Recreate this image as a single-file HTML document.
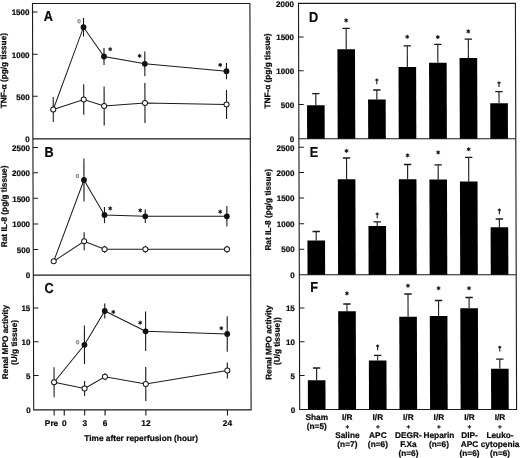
<!DOCTYPE html>
<html><head><meta charset="utf-8"><style>
html,body{margin:0;padding:0;background:#fff;}
svg{display:block;}
text{font-family:"Liberation Sans", sans-serif;fill:#0a0a0a;stroke:#0a0a0a;stroke-width:0.22px;}
svg{filter:blur(0.3px);}
</style></head><body>
<svg width="520" height="458" viewBox="0 0 520 458">
<rect width="520" height="458" fill="#fff"/>
<g transform="translate(0,206) skewX(0.17) translate(0,-206)">
<rect x="33.1" y="3.5" width="217.4" height="406.4" fill="none" stroke="#1a1a1a" stroke-width="1.1"/>
<line x1="33.10" y1="138.90" x2="250.50" y2="138.90" stroke="#1a1a1a" stroke-width="1.1"/>
<line x1="33.10" y1="275.10" x2="250.50" y2="275.10" stroke="#1a1a1a" stroke-width="1.1"/>
<rect x="299.1" y="3.4" width="216.89999999999998" height="406.1" fill="none" stroke="#1a1a1a" stroke-width="1.1"/>
<line x1="299.10" y1="138.80" x2="516.00" y2="138.80" stroke="#1a1a1a" stroke-width="1.1"/>
<line x1="299.10" y1="274.70" x2="516.00" y2="274.70" stroke="#1a1a1a" stroke-width="1.1"/>
<line x1="33.10" y1="12.00" x2="38.10" y2="12.00" stroke="#1a1a1a" stroke-width="1.0"/>
<text x="30.00" y="15.30" font-size="8.0" text-anchor="end" font-weight="bold" >1500</text>
<line x1="33.10" y1="54.30" x2="38.10" y2="54.30" stroke="#1a1a1a" stroke-width="1.0"/>
<text x="30.00" y="57.60" font-size="8.0" text-anchor="end" font-weight="bold" >1000</text>
<line x1="33.10" y1="96.30" x2="38.10" y2="96.30" stroke="#1a1a1a" stroke-width="1.0"/>
<text x="30.00" y="99.60" font-size="8.0" text-anchor="end" font-weight="bold" >500</text>
<text x="30.00" y="142.20" font-size="8.0" text-anchor="end" font-weight="bold" >0</text>
<line x1="33.10" y1="147.40" x2="38.10" y2="147.40" stroke="#1a1a1a" stroke-width="1.0"/>
<text x="30.00" y="150.70" font-size="8.0" text-anchor="end" font-weight="bold" >2500</text>
<line x1="33.10" y1="172.80" x2="38.10" y2="172.80" stroke="#1a1a1a" stroke-width="1.0"/>
<text x="30.00" y="176.10" font-size="8.0" text-anchor="end" font-weight="bold" >2000</text>
<line x1="33.10" y1="198.30" x2="38.10" y2="198.30" stroke="#1a1a1a" stroke-width="1.0"/>
<text x="30.00" y="201.60" font-size="8.0" text-anchor="end" font-weight="bold" >1500</text>
<line x1="33.10" y1="223.90" x2="38.10" y2="223.90" stroke="#1a1a1a" stroke-width="1.0"/>
<text x="30.00" y="227.20" font-size="8.0" text-anchor="end" font-weight="bold" >1000</text>
<line x1="33.10" y1="249.50" x2="38.10" y2="249.50" stroke="#1a1a1a" stroke-width="1.0"/>
<text x="30.00" y="252.80" font-size="8.0" text-anchor="end" font-weight="bold" >500</text>
<text x="30.00" y="278.40" font-size="8.0" text-anchor="end" font-weight="bold" >0</text>
<line x1="33.10" y1="308.00" x2="38.10" y2="308.00" stroke="#1a1a1a" stroke-width="1.0"/>
<text x="30.00" y="311.30" font-size="8.0" text-anchor="end" font-weight="bold" >15</text>
<line x1="33.10" y1="341.80" x2="38.10" y2="341.80" stroke="#1a1a1a" stroke-width="1.0"/>
<text x="30.00" y="345.10" font-size="8.0" text-anchor="end" font-weight="bold" >10</text>
<line x1="33.10" y1="375.60" x2="38.10" y2="375.60" stroke="#1a1a1a" stroke-width="1.0"/>
<text x="30.00" y="378.90" font-size="8.0" text-anchor="end" font-weight="bold" >5</text>
<text x="30.00" y="413.20" font-size="8.0" text-anchor="end" font-weight="bold" >0</text>
<text x="294.50" y="7.20" font-size="8.0" text-anchor="end" font-weight="bold" >2000</text>
<line x1="299.10" y1="37.10" x2="304.10" y2="37.10" stroke="#1a1a1a" stroke-width="1.0"/>
<text x="294.50" y="40.40" font-size="8.0" text-anchor="end" font-weight="bold" >1500</text>
<line x1="299.10" y1="70.80" x2="304.10" y2="70.80" stroke="#1a1a1a" stroke-width="1.0"/>
<text x="294.50" y="74.10" font-size="8.0" text-anchor="end" font-weight="bold" >1000</text>
<line x1="299.10" y1="104.60" x2="304.10" y2="104.60" stroke="#1a1a1a" stroke-width="1.0"/>
<text x="294.50" y="107.90" font-size="8.0" text-anchor="end" font-weight="bold" >500</text>
<text x="294.50" y="142.10" font-size="8.0" text-anchor="end" font-weight="bold" >0</text>
<line x1="299.10" y1="147.30" x2="304.10" y2="147.30" stroke="#1a1a1a" stroke-width="1.0"/>
<text x="294.50" y="150.60" font-size="8.0" text-anchor="end" font-weight="bold" >2500</text>
<line x1="299.10" y1="172.60" x2="304.10" y2="172.60" stroke="#1a1a1a" stroke-width="1.0"/>
<text x="294.50" y="175.90" font-size="8.0" text-anchor="end" font-weight="bold" >2000</text>
<line x1="299.10" y1="198.00" x2="304.10" y2="198.00" stroke="#1a1a1a" stroke-width="1.0"/>
<text x="294.50" y="201.30" font-size="8.0" text-anchor="end" font-weight="bold" >1500</text>
<line x1="299.10" y1="223.70" x2="304.10" y2="223.70" stroke="#1a1a1a" stroke-width="1.0"/>
<text x="294.50" y="227.00" font-size="8.0" text-anchor="end" font-weight="bold" >1000</text>
<line x1="299.10" y1="249.20" x2="304.10" y2="249.20" stroke="#1a1a1a" stroke-width="1.0"/>
<text x="294.50" y="252.50" font-size="8.0" text-anchor="end" font-weight="bold" >500</text>
<text x="294.50" y="278.00" font-size="8.0" text-anchor="end" font-weight="bold" >0</text>
<line x1="299.10" y1="307.90" x2="304.10" y2="307.90" stroke="#1a1a1a" stroke-width="1.0"/>
<text x="294.50" y="311.20" font-size="8.0" text-anchor="end" font-weight="bold" >15</text>
<line x1="299.10" y1="341.70" x2="304.10" y2="341.70" stroke="#1a1a1a" stroke-width="1.0"/>
<text x="294.50" y="345.00" font-size="8.0" text-anchor="end" font-weight="bold" >10</text>
<line x1="299.10" y1="375.50" x2="304.10" y2="375.50" stroke="#1a1a1a" stroke-width="1.0"/>
<text x="294.50" y="378.80" font-size="8.0" text-anchor="end" font-weight="bold" >5</text>
<text x="294.50" y="412.80" font-size="8.0" text-anchor="end" font-weight="bold" >0</text>
<text transform="translate(44.30,21.30) scale(0.88,1)" font-size="14.4" font-weight="bold">A</text>
<text transform="translate(44.60,156.60) scale(0.88,1)" font-size="14.4" font-weight="bold">B</text>
<text transform="translate(44.20,292.50) scale(0.88,1)" font-size="14.4" font-weight="bold">C</text>
<text transform="translate(309.50,22.00) scale(0.88,1)" font-size="14.4" font-weight="bold">D</text>
<text transform="translate(309.90,157.00) scale(0.88,1)" font-size="14.4" font-weight="bold">E</text>
<text transform="translate(309.90,292.30) scale(0.88,1)" font-size="14.4" font-weight="bold">F</text>
<line x1="53.55" y1="409.90" x2="53.55" y2="415.50" stroke="#1a1a1a" stroke-width="1.1"/>
<text x="50.90" y="426.40" font-size="8.3" text-anchor="middle" font-weight="bold" >Pre</text>
<line x1="63.65" y1="409.90" x2="63.65" y2="415.50" stroke="#1a1a1a" stroke-width="1.1"/>
<text x="63.65" y="426.40" font-size="8.3" text-anchor="middle" font-weight="bold" >0</text>
<line x1="84.05" y1="409.90" x2="84.05" y2="415.50" stroke="#1a1a1a" stroke-width="1.1"/>
<text x="84.05" y="426.40" font-size="8.3" text-anchor="middle" font-weight="bold" >3</text>
<line x1="104.45" y1="409.90" x2="104.45" y2="415.50" stroke="#1a1a1a" stroke-width="1.1"/>
<text x="104.45" y="426.40" font-size="8.3" text-anchor="middle" font-weight="bold" >6</text>
<line x1="145.25" y1="409.90" x2="145.25" y2="415.50" stroke="#1a1a1a" stroke-width="1.1"/>
<text x="145.25" y="426.40" font-size="8.3" text-anchor="middle" font-weight="bold" >12</text>
<line x1="226.85" y1="409.90" x2="226.85" y2="415.50" stroke="#1a1a1a" stroke-width="1.1"/>
<text x="226.85" y="426.40" font-size="8.3" text-anchor="middle" font-weight="bold" >24</text>
<text x="140.50" y="441.20" font-size="8.3" text-anchor="middle" font-weight="bold" >Time after reperfusion (hour)</text>
<text transform="translate(6.80,70.60) rotate(-90)" font-size="8.25" text-anchor="middle" font-weight="bold">TNF-α (pg/g tissue)</text>
<text transform="translate(6.90,206.40) rotate(-90)" font-size="8.25" text-anchor="middle" font-weight="bold">Rat IL-8 (pg/g tissue)</text>
<text transform="translate(7.60,342.00) rotate(-90)" font-size="8.25" text-anchor="middle" font-weight="bold">Renal MPO activity</text>
<text transform="translate(16.60,342.50) rotate(-90)" font-size="8.25" text-anchor="middle" font-weight="bold">(U/g tissue)</text>
<text transform="translate(270.60,71.00) rotate(-90)" font-size="8.25" text-anchor="middle" font-weight="bold">TNF-α (pg/g tissue)</text>
<text transform="translate(270.80,209.80) rotate(-90)" font-size="8.25" text-anchor="middle" font-weight="bold">Rat IL-8 (pg/g tissue)</text>
<text transform="translate(271.00,342.50) rotate(-90)" font-size="8.25" text-anchor="middle" font-weight="bold">Renal MPO activity</text>
<text transform="translate(279.40,341.20) rotate(-90)" font-size="8.25" text-anchor="middle" font-weight="bold">(U/g tissue))</text>
<line x1="53.55" y1="97.00" x2="53.55" y2="122.00" stroke="#1a1a1a" stroke-width="1.1"/>
<line x1="84.05" y1="84.20" x2="84.05" y2="114.80" stroke="#1a1a1a" stroke-width="1.1"/>
<line x1="104.45" y1="86.60" x2="104.45" y2="125.40" stroke="#1a1a1a" stroke-width="1.1"/>
<line x1="145.25" y1="83.00" x2="145.25" y2="123.00" stroke="#1a1a1a" stroke-width="1.1"/>
<line x1="226.85" y1="90.10" x2="226.85" y2="118.90" stroke="#1a1a1a" stroke-width="1.1"/>
<line x1="84.05" y1="18.00" x2="84.05" y2="36.40" stroke="#1a1a1a" stroke-width="1.1"/>
<line x1="104.45" y1="48.10" x2="104.45" y2="64.90" stroke="#1a1a1a" stroke-width="1.1"/>
<line x1="145.25" y1="51.40" x2="145.25" y2="76.20" stroke="#1a1a1a" stroke-width="1.1"/>
<line x1="226.85" y1="63.10" x2="226.85" y2="79.30" stroke="#1a1a1a" stroke-width="1.1"/>
<path d="M53.55,109.50 L84.05,27.20 L104.45,56.50 L145.25,63.80 L226.85,71.20" fill="none" stroke="#1a1a1a" stroke-width="1.0"/>
<path d="M53.55,109.50 L84.05,99.50 L104.45,106.00 L145.25,103.00 L226.85,104.50" fill="none" stroke="#1a1a1a" stroke-width="1.0"/>
<circle cx="84.05" cy="27.20" r="2.9" fill="#111"/>
<circle cx="104.45" cy="56.50" r="2.9" fill="#111"/>
<circle cx="145.25" cy="63.80" r="2.9" fill="#111"/>
<circle cx="226.85" cy="71.20" r="2.9" fill="#111"/>
<circle cx="53.55" cy="109.50" r="2.55" fill="#fff" stroke="#1a1a1a" stroke-width="1.0"/>
<circle cx="84.05" cy="99.50" r="2.55" fill="#fff" stroke="#1a1a1a" stroke-width="1.0"/>
<circle cx="104.45" cy="106.00" r="2.55" fill="#fff" stroke="#1a1a1a" stroke-width="1.0"/>
<circle cx="145.25" cy="103.00" r="2.55" fill="#fff" stroke="#1a1a1a" stroke-width="1.0"/>
<circle cx="226.85" cy="104.50" r="2.55" fill="#fff" stroke="#1a1a1a" stroke-width="1.0"/>
<polygon points="110.67,47.20 111.12,48.42 112.40,48.20 111.57,49.20 112.40,50.20 111.12,49.98 110.67,51.20 110.22,49.98 108.94,50.20 109.77,49.20 108.94,48.20 110.22,48.42" fill="#111" stroke="#111" stroke-width="0.5"/>
<polygon points="140.05,53.90 140.50,55.12 141.78,54.90 140.95,55.90 141.78,56.90 140.50,56.68 140.05,57.90 139.60,56.68 138.32,56.90 139.15,55.90 138.32,54.90 139.60,55.12" fill="#111" stroke="#111" stroke-width="0.5"/>
<polygon points="220.62,62.90 221.07,64.12 222.36,63.90 221.52,64.90 222.36,65.90 221.07,65.68 220.62,66.90 220.17,65.68 218.89,65.90 219.72,64.90 218.89,63.90 220.17,64.12" fill="#111" stroke="#111" stroke-width="0.5"/>
<ellipse cx="79.55" cy="21.30" rx="1.3" ry="1.7" fill="#ddd" stroke="#8a8a8a" stroke-width="1.0"/>
<line x1="53.55" y1="259.30" x2="53.55" y2="263.30" stroke="#1a1a1a" stroke-width="1.1"/>
<line x1="84.05" y1="232.30" x2="84.05" y2="250.30" stroke="#1a1a1a" stroke-width="1.1"/>
<line x1="104.45" y1="245.80" x2="104.45" y2="252.80" stroke="#1a1a1a" stroke-width="1.1"/>
<line x1="145.25" y1="245.80" x2="145.25" y2="252.80" stroke="#1a1a1a" stroke-width="1.1"/>
<line x1="226.85" y1="245.80" x2="226.85" y2="252.80" stroke="#1a1a1a" stroke-width="1.1"/>
<line x1="84.05" y1="158.50" x2="84.05" y2="201.50" stroke="#1a1a1a" stroke-width="1.1"/>
<line x1="104.45" y1="207.00" x2="104.45" y2="223.00" stroke="#1a1a1a" stroke-width="1.1"/>
<line x1="145.25" y1="209.50" x2="145.25" y2="223.10" stroke="#1a1a1a" stroke-width="1.1"/>
<line x1="226.85" y1="206.00" x2="226.85" y2="226.60" stroke="#1a1a1a" stroke-width="1.1"/>
<path d="M53.55,261.30 L84.05,180.00 L104.45,215.00 L145.25,216.30 L226.85,216.30" fill="none" stroke="#1a1a1a" stroke-width="1.0"/>
<path d="M53.55,261.30 L84.05,241.30 L104.45,249.30 L145.25,249.30 L226.85,249.30" fill="none" stroke="#1a1a1a" stroke-width="1.0"/>
<circle cx="84.05" cy="180.00" r="2.9" fill="#111"/>
<circle cx="104.45" cy="215.00" r="2.9" fill="#111"/>
<circle cx="145.25" cy="216.30" r="2.9" fill="#111"/>
<circle cx="226.85" cy="216.30" r="2.9" fill="#111"/>
<circle cx="53.55" cy="261.30" r="2.55" fill="#fff" stroke="#1a1a1a" stroke-width="1.0"/>
<circle cx="84.05" cy="241.30" r="2.55" fill="#fff" stroke="#1a1a1a" stroke-width="1.0"/>
<circle cx="104.45" cy="249.30" r="2.55" fill="#fff" stroke="#1a1a1a" stroke-width="1.0"/>
<circle cx="145.25" cy="249.30" r="2.55" fill="#fff" stroke="#1a1a1a" stroke-width="1.0"/>
<circle cx="226.85" cy="249.30" r="2.55" fill="#fff" stroke="#1a1a1a" stroke-width="1.0"/>
<polygon points="110.19,206.40 110.64,207.62 111.93,207.40 111.09,208.40 111.93,209.40 110.64,209.18 110.19,210.40 109.74,209.18 108.46,209.40 109.29,208.40 108.46,207.40 109.74,207.62" fill="#111" stroke="#111" stroke-width="0.5"/>
<polygon points="140.19,208.40 140.64,209.62 141.92,209.40 141.09,210.40 141.92,211.40 140.64,211.18 140.19,212.40 139.74,211.18 138.46,211.40 139.29,210.40 138.46,209.40 139.74,209.62" fill="#111" stroke="#111" stroke-width="0.5"/>
<polygon points="220.18,209.70 220.63,210.92 221.92,210.70 221.08,211.70 221.92,212.70 220.63,212.48 220.18,213.70 219.73,212.48 218.45,212.70 219.28,211.70 218.45,210.70 219.73,210.92" fill="#111" stroke="#111" stroke-width="0.5"/>
<ellipse cx="77.49" cy="176.00" rx="1.3" ry="1.7" fill="#ddd" stroke="#8a8a8a" stroke-width="1.0"/>
<line x1="53.55" y1="367.30" x2="53.55" y2="397.30" stroke="#1a1a1a" stroke-width="1.1"/>
<line x1="84.05" y1="381.00" x2="84.05" y2="396.00" stroke="#1a1a1a" stroke-width="1.1"/>
<line x1="104.45" y1="373.30" x2="104.45" y2="380.30" stroke="#1a1a1a" stroke-width="1.1"/>
<line x1="145.25" y1="367.00" x2="145.25" y2="401.00" stroke="#1a1a1a" stroke-width="1.1"/>
<line x1="226.85" y1="362.60" x2="226.85" y2="378.40" stroke="#1a1a1a" stroke-width="1.1"/>
<line x1="84.05" y1="325.50" x2="84.05" y2="364.10" stroke="#1a1a1a" stroke-width="1.1"/>
<line x1="104.45" y1="303.50" x2="104.45" y2="318.50" stroke="#1a1a1a" stroke-width="1.1"/>
<line x1="145.25" y1="311.50" x2="145.25" y2="351.10" stroke="#1a1a1a" stroke-width="1.1"/>
<line x1="226.85" y1="316.20" x2="226.85" y2="351.80" stroke="#1a1a1a" stroke-width="1.1"/>
<path d="M53.55,382.30 L84.05,344.80 L104.45,311.00 L145.25,331.30 L226.85,334.00" fill="none" stroke="#1a1a1a" stroke-width="1.0"/>
<path d="M53.55,382.30 L84.05,388.50 L104.45,376.80 L145.25,384.00 L226.85,370.50" fill="none" stroke="#1a1a1a" stroke-width="1.0"/>
<circle cx="84.05" cy="344.80" r="2.9" fill="#111"/>
<circle cx="104.45" cy="311.00" r="2.9" fill="#111"/>
<circle cx="145.25" cy="331.30" r="2.9" fill="#111"/>
<circle cx="226.85" cy="334.00" r="2.9" fill="#111"/>
<circle cx="53.55" cy="382.30" r="2.55" fill="#fff" stroke="#1a1a1a" stroke-width="1.0"/>
<circle cx="84.05" cy="388.50" r="2.55" fill="#fff" stroke="#1a1a1a" stroke-width="1.0"/>
<circle cx="104.45" cy="376.80" r="2.55" fill="#fff" stroke="#1a1a1a" stroke-width="1.0"/>
<circle cx="145.25" cy="384.00" r="2.55" fill="#fff" stroke="#1a1a1a" stroke-width="1.0"/>
<circle cx="226.85" cy="370.50" r="2.55" fill="#fff" stroke="#1a1a1a" stroke-width="1.0"/>
<polygon points="112.98,309.90 113.43,311.12 114.72,310.90 113.88,311.90 114.72,312.90 113.43,312.68 112.98,313.90 112.53,312.68 111.25,312.90 112.08,311.90 111.25,310.90 112.53,311.12" fill="#111" stroke="#111" stroke-width="0.5"/>
<polygon points="139.85,320.70 140.30,321.92 141.58,321.70 140.75,322.70 141.58,323.70 140.30,323.48 139.85,324.70 139.40,323.48 138.12,323.70 138.95,322.70 138.12,321.70 139.40,321.92" fill="#111" stroke="#111" stroke-width="0.5"/>
<polygon points="220.93,326.20 221.38,327.42 222.67,327.20 221.83,328.20 222.67,329.20 221.38,328.98 220.93,330.20 220.48,328.98 219.20,329.20 220.03,328.20 219.20,327.20 220.48,327.42" fill="#111" stroke="#111" stroke-width="0.5"/>
<ellipse cx="77.19" cy="342.30" rx="1.3" ry="1.7" fill="#ddd" stroke="#8a8a8a" stroke-width="1.0"/>
<line x1="316.13" y1="93.60" x2="316.13" y2="105.30" stroke="#1a1a1a" stroke-width="1.1"/>
<line x1="312.43" y1="93.60" x2="319.83" y2="93.60" stroke="#1a1a1a" stroke-width="1.3"/>
<rect x="307.33" y="105.30" width="17.6" height="33.50" fill="#000"/>
<line x1="346.67" y1="28.30" x2="346.67" y2="49.30" stroke="#1a1a1a" stroke-width="1.1"/>
<line x1="342.97" y1="28.30" x2="350.37" y2="28.30" stroke="#1a1a1a" stroke-width="1.3"/>
<rect x="337.87" y="49.30" width="17.6" height="89.50" fill="#000"/>
<line x1="377.20" y1="90.00" x2="377.20" y2="99.40" stroke="#1a1a1a" stroke-width="1.1"/>
<line x1="373.50" y1="90.00" x2="380.90" y2="90.00" stroke="#1a1a1a" stroke-width="1.3"/>
<rect x="368.40" y="99.40" width="17.6" height="39.40" fill="#000"/>
<line x1="407.74" y1="45.80" x2="407.74" y2="67.00" stroke="#1a1a1a" stroke-width="1.1"/>
<line x1="404.04" y1="45.80" x2="411.44" y2="45.80" stroke="#1a1a1a" stroke-width="1.3"/>
<rect x="398.94" y="67.00" width="17.6" height="71.80" fill="#000"/>
<line x1="438.28" y1="44.30" x2="438.28" y2="62.70" stroke="#1a1a1a" stroke-width="1.1"/>
<line x1="434.58" y1="44.30" x2="441.98" y2="44.30" stroke="#1a1a1a" stroke-width="1.3"/>
<rect x="429.48" y="62.70" width="17.6" height="76.10" fill="#000"/>
<line x1="468.81" y1="39.10" x2="468.81" y2="58.00" stroke="#1a1a1a" stroke-width="1.1"/>
<line x1="465.12" y1="39.10" x2="472.51" y2="39.10" stroke="#1a1a1a" stroke-width="1.3"/>
<rect x="460.01" y="58.00" width="17.6" height="80.80" fill="#000"/>
<line x1="499.35" y1="91.70" x2="499.35" y2="103.30" stroke="#1a1a1a" stroke-width="1.1"/>
<line x1="495.65" y1="91.70" x2="503.05" y2="91.70" stroke="#1a1a1a" stroke-width="1.3"/>
<rect x="490.55" y="103.30" width="17.6" height="35.50" fill="#000"/>
<polygon points="346.67,18.40 347.12,19.62 348.40,19.40 347.57,20.40 348.40,21.40 347.12,21.18 346.67,22.40 346.22,21.18 344.93,21.40 345.77,20.40 344.93,19.40 346.22,19.62" fill="#111" stroke="#111" stroke-width="0.5"/>
<line x1="377.20" y1="78.60" x2="377.20" y2="84.30" stroke="#1a1a1a" stroke-width="1.1"/>
<line x1="375.70" y1="80.00" x2="378.70" y2="80.00" stroke="#1a1a1a" stroke-width="1.4"/>
<polygon points="407.74,34.80 408.19,36.02 409.47,35.80 408.64,36.80 409.47,37.80 408.19,37.58 407.74,38.80 407.29,37.58 406.01,37.80 406.84,36.80 406.01,35.80 407.29,36.02" fill="#111" stroke="#111" stroke-width="0.5"/>
<polygon points="438.28,35.10 438.73,36.32 440.01,36.10 439.18,37.10 440.01,38.10 438.73,37.88 438.28,39.10 437.83,37.88 436.55,38.10 437.38,37.10 436.55,36.10 437.83,36.32" fill="#111" stroke="#111" stroke-width="0.5"/>
<polygon points="468.81,29.40 469.26,30.62 470.55,30.40 469.71,31.40 470.55,32.40 469.26,32.18 468.81,33.40 468.37,32.18 467.08,32.40 467.92,31.40 467.08,30.40 468.37,30.62" fill="#111" stroke="#111" stroke-width="0.5"/>
<line x1="499.35" y1="81.30" x2="499.35" y2="87.00" stroke="#1a1a1a" stroke-width="1.1"/>
<line x1="497.85" y1="82.70" x2="500.85" y2="82.70" stroke="#1a1a1a" stroke-width="1.4"/>
<line x1="316.13" y1="231.50" x2="316.13" y2="240.50" stroke="#1a1a1a" stroke-width="1.1"/>
<line x1="312.43" y1="231.50" x2="319.83" y2="231.50" stroke="#1a1a1a" stroke-width="1.3"/>
<rect x="307.33" y="240.50" width="17.6" height="34.20" fill="#000"/>
<line x1="346.67" y1="158.00" x2="346.67" y2="179.30" stroke="#1a1a1a" stroke-width="1.1"/>
<line x1="342.97" y1="158.00" x2="350.37" y2="158.00" stroke="#1a1a1a" stroke-width="1.3"/>
<rect x="337.87" y="179.30" width="17.6" height="95.40" fill="#000"/>
<line x1="377.20" y1="221.80" x2="377.20" y2="226.00" stroke="#1a1a1a" stroke-width="1.1"/>
<line x1="373.50" y1="221.80" x2="380.90" y2="221.80" stroke="#1a1a1a" stroke-width="1.3"/>
<rect x="368.40" y="226.00" width="17.6" height="48.70" fill="#000"/>
<line x1="407.74" y1="164.50" x2="407.74" y2="179.30" stroke="#1a1a1a" stroke-width="1.1"/>
<line x1="404.04" y1="164.50" x2="411.44" y2="164.50" stroke="#1a1a1a" stroke-width="1.3"/>
<rect x="398.94" y="179.30" width="17.6" height="95.40" fill="#000"/>
<line x1="438.28" y1="164.80" x2="438.28" y2="179.50" stroke="#1a1a1a" stroke-width="1.1"/>
<line x1="434.58" y1="164.80" x2="441.98" y2="164.80" stroke="#1a1a1a" stroke-width="1.3"/>
<rect x="429.48" y="179.50" width="17.6" height="95.20" fill="#000"/>
<line x1="468.81" y1="157.30" x2="468.81" y2="181.50" stroke="#1a1a1a" stroke-width="1.1"/>
<line x1="465.12" y1="157.30" x2="472.51" y2="157.30" stroke="#1a1a1a" stroke-width="1.3"/>
<rect x="460.01" y="181.50" width="17.6" height="93.20" fill="#000"/>
<line x1="499.35" y1="219.00" x2="499.35" y2="227.20" stroke="#1a1a1a" stroke-width="1.1"/>
<line x1="495.65" y1="219.00" x2="503.05" y2="219.00" stroke="#1a1a1a" stroke-width="1.3"/>
<rect x="490.55" y="227.20" width="17.6" height="47.50" fill="#000"/>
<polygon points="346.67,148.90 347.12,150.12 348.40,149.90 347.57,150.90 348.40,151.90 347.12,151.68 346.67,152.90 346.22,151.68 344.93,151.90 345.77,150.90 344.93,149.90 346.22,150.12" fill="#111" stroke="#111" stroke-width="0.5"/>
<line x1="377.20" y1="212.60" x2="377.20" y2="218.30" stroke="#1a1a1a" stroke-width="1.1"/>
<line x1="375.70" y1="214.00" x2="378.70" y2="214.00" stroke="#1a1a1a" stroke-width="1.4"/>
<polygon points="407.74,153.40 408.19,154.62 409.47,154.40 408.64,155.40 409.47,156.40 408.19,156.18 407.74,157.40 407.29,156.18 406.01,156.40 406.84,155.40 406.01,154.40 407.29,154.62" fill="#111" stroke="#111" stroke-width="0.5"/>
<polygon points="438.28,150.40 438.73,151.62 440.01,151.40 439.18,152.40 440.01,153.40 438.73,153.18 438.28,154.40 437.83,153.18 436.55,153.40 437.38,152.40 436.55,151.40 437.83,151.62" fill="#111" stroke="#111" stroke-width="0.5"/>
<polygon points="468.81,147.20 469.26,148.42 470.55,148.20 469.71,149.20 470.55,150.20 469.26,149.98 468.81,151.20 468.37,149.98 467.08,150.20 467.92,149.20 467.08,148.20 468.37,148.42" fill="#111" stroke="#111" stroke-width="0.5"/>
<line x1="499.35" y1="208.60" x2="499.35" y2="214.30" stroke="#1a1a1a" stroke-width="1.1"/>
<line x1="497.85" y1="210.00" x2="500.85" y2="210.00" stroke="#1a1a1a" stroke-width="1.4"/>
<line x1="316.13" y1="368.00" x2="316.13" y2="380.30" stroke="#1a1a1a" stroke-width="1.1"/>
<line x1="312.43" y1="368.00" x2="319.83" y2="368.00" stroke="#1a1a1a" stroke-width="1.3"/>
<rect x="307.33" y="380.30" width="17.6" height="29.20" fill="#000"/>
<line x1="346.67" y1="304.00" x2="346.67" y2="311.30" stroke="#1a1a1a" stroke-width="1.1"/>
<line x1="342.97" y1="304.00" x2="350.37" y2="304.00" stroke="#1a1a1a" stroke-width="1.3"/>
<rect x="337.87" y="311.30" width="17.6" height="98.20" fill="#000"/>
<line x1="377.20" y1="355.30" x2="377.20" y2="360.50" stroke="#1a1a1a" stroke-width="1.1"/>
<line x1="373.50" y1="355.30" x2="380.90" y2="355.30" stroke="#1a1a1a" stroke-width="1.3"/>
<rect x="368.40" y="360.50" width="17.6" height="49.00" fill="#000"/>
<line x1="407.74" y1="294.00" x2="407.74" y2="316.80" stroke="#1a1a1a" stroke-width="1.1"/>
<line x1="404.04" y1="294.00" x2="411.44" y2="294.00" stroke="#1a1a1a" stroke-width="1.3"/>
<rect x="398.94" y="316.80" width="17.6" height="92.70" fill="#000"/>
<line x1="438.28" y1="300.50" x2="438.28" y2="316.00" stroke="#1a1a1a" stroke-width="1.1"/>
<line x1="434.58" y1="300.50" x2="441.98" y2="300.50" stroke="#1a1a1a" stroke-width="1.3"/>
<rect x="429.48" y="316.00" width="17.6" height="93.50" fill="#000"/>
<line x1="468.81" y1="297.50" x2="468.81" y2="308.30" stroke="#1a1a1a" stroke-width="1.1"/>
<line x1="465.12" y1="297.50" x2="472.51" y2="297.50" stroke="#1a1a1a" stroke-width="1.3"/>
<rect x="460.01" y="308.30" width="17.6" height="101.20" fill="#000"/>
<line x1="499.35" y1="359.20" x2="499.35" y2="368.70" stroke="#1a1a1a" stroke-width="1.1"/>
<line x1="495.65" y1="359.20" x2="503.05" y2="359.20" stroke="#1a1a1a" stroke-width="1.3"/>
<rect x="490.55" y="368.70" width="17.6" height="40.80" fill="#000"/>
<polygon points="346.67,291.40 347.12,292.62 348.40,292.40 347.57,293.40 348.40,294.40 347.12,294.18 346.67,295.40 346.22,294.18 344.93,294.40 345.77,293.40 344.93,292.40 346.22,292.62" fill="#111" stroke="#111" stroke-width="0.5"/>
<line x1="377.20" y1="344.60" x2="377.20" y2="350.30" stroke="#1a1a1a" stroke-width="1.1"/>
<line x1="375.70" y1="346.00" x2="378.70" y2="346.00" stroke="#1a1a1a" stroke-width="1.4"/>
<polygon points="407.74,283.70 408.19,284.92 409.47,284.70 408.64,285.70 409.47,286.70 408.19,286.48 407.74,287.70 407.29,286.48 406.01,286.70 406.84,285.70 406.01,284.70 407.29,284.92" fill="#111" stroke="#111" stroke-width="0.5"/>
<polygon points="438.28,286.20 438.73,287.42 440.01,287.20 439.18,288.20 440.01,289.20 438.73,288.98 438.28,290.20 437.83,288.98 436.55,289.20 437.38,288.20 436.55,287.20 437.83,287.42" fill="#111" stroke="#111" stroke-width="0.5"/>
<polygon points="468.81,286.20 469.26,287.42 470.55,287.20 469.71,288.20 470.55,289.20 469.26,288.98 468.81,290.20 468.37,288.98 467.08,289.20 467.92,288.20 467.08,287.20 468.37,287.42" fill="#111" stroke="#111" stroke-width="0.5"/>
<line x1="499.35" y1="345.80" x2="499.35" y2="351.50" stroke="#1a1a1a" stroke-width="1.1"/>
<line x1="497.85" y1="347.20" x2="500.85" y2="347.20" stroke="#1a1a1a" stroke-width="1.4"/>
<text x="316.13" y="420.50" font-size="8.3" text-anchor="middle" font-weight="bold" >Sham</text>
<text x="316.13" y="429.30" font-size="8.3" text-anchor="middle" font-weight="bold" >(n=5)</text>
<text x="346.67" y="420.50" font-size="8.3" text-anchor="middle" font-weight="bold" >I/R</text>
<text x="346.67" y="428.80" font-size="6.5" text-anchor="middle" font-weight="bold" >+</text>
<text x="346.67" y="438.20" font-size="8.3" text-anchor="middle" font-weight="bold" >Saline</text>
<text x="346.67" y="447.00" font-size="8.3" text-anchor="middle" font-weight="bold" >(n=7)</text>
<text x="377.20" y="420.50" font-size="8.3" text-anchor="middle" font-weight="bold" >I/R</text>
<text x="377.20" y="428.80" font-size="6.5" text-anchor="middle" font-weight="bold" >+</text>
<text x="377.20" y="438.20" font-size="8.3" text-anchor="middle" font-weight="bold" >APC</text>
<text x="377.20" y="447.00" font-size="8.3" text-anchor="middle" font-weight="bold" >(n=6)</text>
<text x="407.74" y="420.50" font-size="8.3" text-anchor="middle" font-weight="bold" >I/R</text>
<text x="407.74" y="428.80" font-size="6.5" text-anchor="middle" font-weight="bold" >+</text>
<text x="407.74" y="438.20" font-size="8.3" text-anchor="middle" font-weight="bold" >DEGR-</text>
<text x="407.74" y="447.00" font-size="8.3" text-anchor="middle" font-weight="bold" >F.Xa</text>
<text x="407.74" y="455.80" font-size="8.3" text-anchor="middle" font-weight="bold" >(n=6)</text>
<text x="438.28" y="420.50" font-size="8.3" text-anchor="middle" font-weight="bold" >I/R</text>
<text x="438.28" y="428.80" font-size="6.5" text-anchor="middle" font-weight="bold" >+</text>
<text x="438.28" y="438.20" font-size="8.3" text-anchor="middle" font-weight="bold" >Heparin</text>
<text x="438.28" y="447.00" font-size="8.3" text-anchor="middle" font-weight="bold" >(n=6)</text>
<text x="468.81" y="420.50" font-size="8.3" text-anchor="middle" font-weight="bold" >I/R</text>
<text x="468.81" y="428.80" font-size="6.5" text-anchor="middle" font-weight="bold" >+</text>
<text x="468.81" y="438.20" font-size="8.3" text-anchor="middle" font-weight="bold" >DIP-</text>
<text x="468.81" y="447.00" font-size="8.3" text-anchor="middle" font-weight="bold" >APC</text>
<text x="468.81" y="455.80" font-size="8.3" text-anchor="middle" font-weight="bold" >(n=6)</text>
<text x="499.35" y="420.50" font-size="8.3" text-anchor="middle" font-weight="bold" >I/R</text>
<text x="499.35" y="428.80" font-size="6.5" text-anchor="middle" font-weight="bold" >+</text>
<text x="499.35" y="438.20" font-size="8.3" text-anchor="middle" font-weight="bold" >Leuko-</text>
<text x="499.35" y="447.00" font-size="8.3" text-anchor="middle" font-weight="bold" >cytopenia</text>
<text x="499.35" y="455.80" font-size="8.3" text-anchor="middle" font-weight="bold" >(n=6)</text>
</g>
</svg>
</body></html>
